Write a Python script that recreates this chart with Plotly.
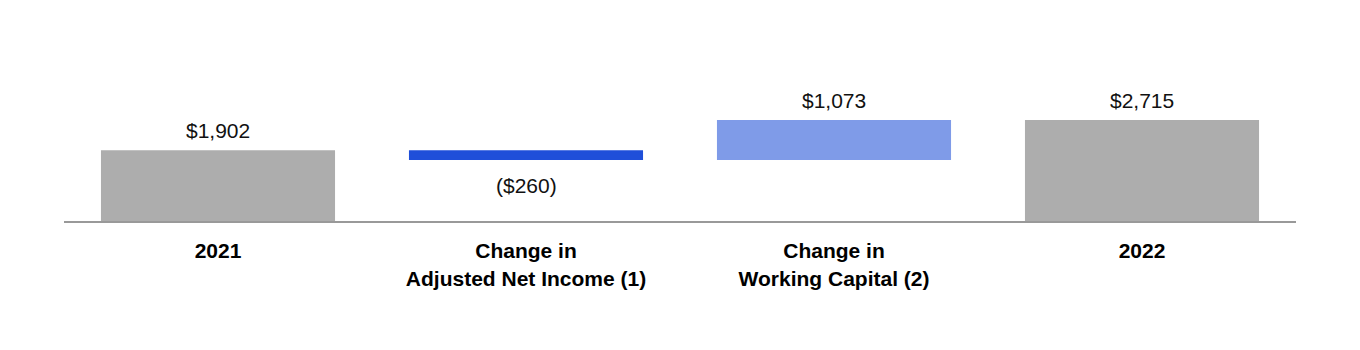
import plotly.graph_objects as go

categories = ["2021", "Change in<br>Adjusted Net Income (1)", "Change in<br>Working Capital (2)", "2022"]
values = [1902, -260, 1073, 2715]
measures = ["absolute", "relative", "relative", "total"]
value_labels = ["$1,902", "($260)", "$1,073", "$2,715"]
colors = ["#ADADAD", "#1F4FD9", "#7F9BE8", "#ADADAD"]

# compute bases for a waterfall from the data
bases, heights, ends = [], [], []
running = 0
for v, m in zip(values, measures):
    if m == "absolute":
        bases.append(0); heights.append(v); running = v
    elif m == "total":
        bases.append(0); heights.append(running)
    else:
        bases.append(running); heights.append(v); running += v
    ends.append(bases[-1] + heights[-1])

x_idx = list(range(len(categories)))

fig = go.Figure()
fig.add_trace(go.Bar(
    x=x_idx, y=heights, base=bases,
    marker=dict(color=colors, line=dict(width=0)),
    width=0.76, hoverinfo="skip", showlegend=False,
))

for i, (lab, h, e) in enumerate(zip(value_labels, heights, ends)):
    fig.add_annotation(
        x=i, y=e, text=lab, showarrow=False,
        yanchor="middle", xanchor="center",
        yshift=20 if h >= 0 else -26,
        font=dict(family="Liberation Sans, Arial, sans-serif", size=21, color="#111111"),
    )

top = 2715 * 201 / 101
fig.update_layout(
    width=1360, height=350,
    margin=dict(l=64, r=64, t=20, b=129),
    paper_bgcolor="white", plot_bgcolor="white",
    font=dict(family="Liberation Sans, Arial, sans-serif", size=21, color="#000000"),
    xaxis=dict(
        tickmode="array", tickvals=x_idx,
        ticktext=["<b>" + c.replace("<br>", "</b><br><b>") + "</b>" for c in categories],
        range=[-0.5, len(categories) - 0.5],
        showline=True, linecolor="#999999", linewidth=2,
        showgrid=False, zeroline=False, ticks="", ticklabelstandoff=10,
        tickfont=dict(size=21, color="#000000"),
    ),
    yaxis=dict(range=[0, top], visible=False, showgrid=False, zeroline=False),
)

fig.write_html("out.html")
